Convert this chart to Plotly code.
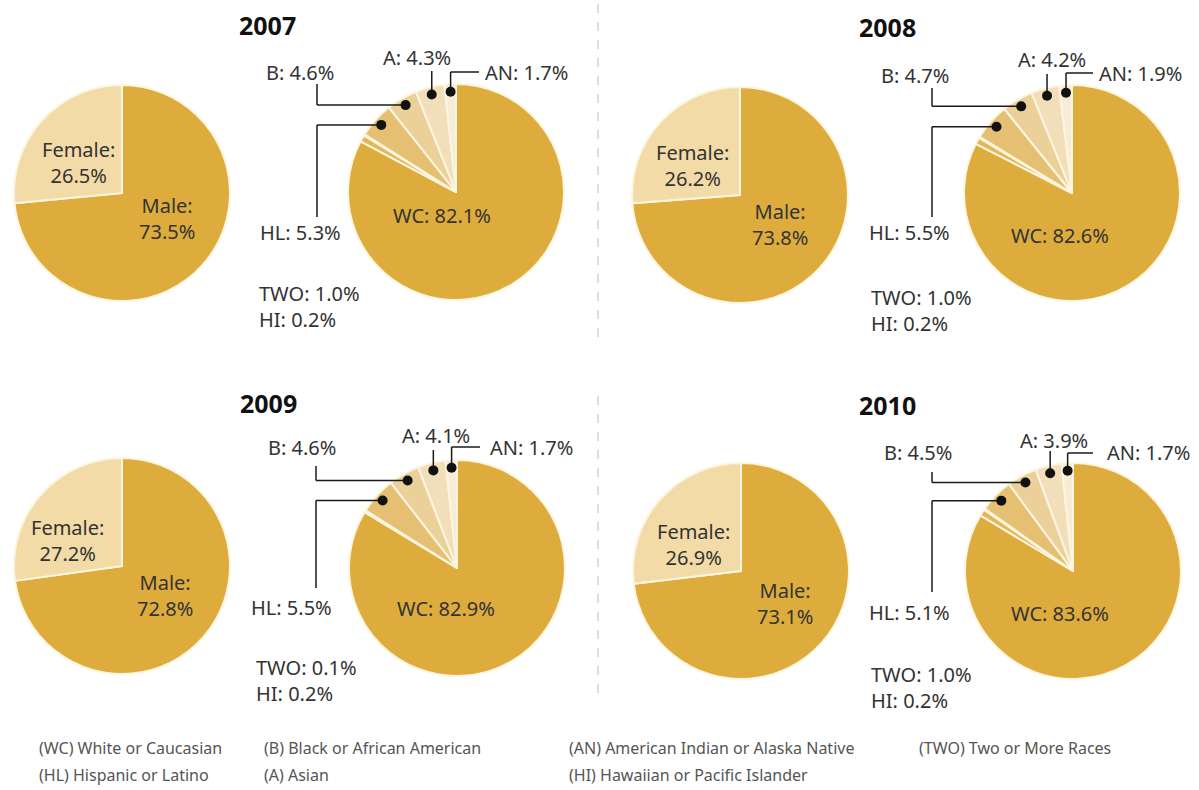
import math
import plotly.graph_objects as go

W, H = 1199, 790

# ---- data -------------------------------------------------------------
YEARS = ["2007", "2008", "2009", "2010"]
MALE = [73.5, 73.8, 72.8, 73.1]
FEMALE = [26.5, 26.2, 27.2, 26.9]

WC = [82.1, 82.6, 82.9, 83.6]
HL = [5.3, 5.5, 5.5, 5.1]
B = [4.6, 4.7, 4.6, 4.5]
A = [4.3, 4.2, 4.1, 3.9]
AN = [1.7, 1.9, 1.7, 1.7]
TWO = [1.0, 1.0, 0.1, 1.0]
HI = [0.2, 0.2, 0.2, 0.2]

ETH_CODES = ["WC", "TWO", "HI", "HL", "B", "A", "AN"]

LEGEND_ROWS = [
    ["(WC) White or Caucasian", "(B) Black or African American",
     "(AN) American Indian or Alaska Native", "(TWO) Two or More Races"],
    ["(HL) Hispanic or Latino", "(A) Asian",
     "(HI) Hawaiian or Pacific Islander", ""],
]

# ---- styling ----------------------------------------------------------
GOLD = "#DEAC3C"
FEMALE_COL = "#F2DBA6"
ETH_COLORS = [GOLD, "#E3B757", "#E3B757", "#E5BF72", "#ECD09A", "#F2DFBA", "#F7ECD6"]
EDGE = "#FCF5DF"
FONT = "Noto Sans"
TXT = "#333333"
LABEL_SIZE = 20
R = 108  # pie radius in px

# per-panel placement (pixel coordinates, y measured from the top)
PANELS = [
    dict(title=(267, 25), g=(122, 193), e=(456, 192),
         fem=(78, 162), male=(167, 219), wc=(442, 215),
         b=(300, 72), a=(417, 58), an=(483, 72), hl=(300, 232), twohi=(257, 306),
         vx=317, b_end=84, hl_end=217, a_end=71, an_end=479),
    dict(title=(887, 27), g=(740, 195), e=(1072, 193),
         fem=(692, 165), male=(780, 225), wc=(1060, 235),
         b=(915, 75), a=(1052, 60), an=(1097, 73), hl=(910, 232), twohi=(869, 310),
         vx=932, b_end=88, hl_end=217, a_end=74, an_end=1093),
    dict(title=(268, 403), g=(122, 566), e=(457, 568),
         fem=(67, 540), male=(165, 595), wc=(446, 608),
         b=(302, 447), a=(436, 435), an=(488, 447), hl=(291, 607), twohi=(254, 680),
         vx=316, b_end=466, hl_end=588, a_end=450, an_end=480),
    dict(title=(887, 405), g=(741, 571), e=(1073, 571),
         fem=(694, 544), male=(785, 603), wc=(1060, 613),
         b=(918, 453), a=(1054, 440), an=(1105, 453), hl=(910, 612), twohi=(869, 687),
         vx=932, b_end=472, hl_end=592, a_end=451, an_end=1093),
]


def px(x):
    return x / W


def py(y):
    return 1 - y / H


def domain(c):
    cx, cy = c
    return dict(x=[px(cx - R), px(cx + R)], y=[py(cy + R), py(cy - R)])


fig = go.Figure()
annotations = []
shapes = []


def label(text, pos, anchor="center", size=LABEL_SIZE, bold=False, color=TXT, align="center"):
    annotations.append(dict(
        x=px(pos[0]), y=py(pos[1]), xref="paper", yref="paper",
        text=f"<b>{text}</b>" if bold else text, showarrow=False,
        xanchor=anchor, yanchor="middle", align=align,
        font=dict(family=FONT, size=size, color=color)))


def seg(points):
    for (x0, y0), (x1, y1) in zip(points[:-1], points[1:]):
        shapes.append(dict(type="line", xref="paper", yref="paper",
                           x0=px(x0), y0=py(y0), x1=px(x1), y1=py(y1),
                           line=dict(color="#1a1a1a", width=1.5), layer="above"))


def dot(x, y, r=5):
    shapes.append(dict(type="circle", xref="paper", yref="paper",
                       x0=px(x - r), y0=py(y + r), x1=px(x + r), y1=py(y - r),
                       fillcolor="#111111", line=dict(width=0), layer="above"))


for i, year in enumerate(YEARS):
    p = PANELS[i]

    # gender pie
    fig.add_trace(go.Pie(
        labels=["Male", "Female"], values=[MALE[i], FEMALE[i]],
        sort=False, direction="clockwise", rotation=0,
        marker=dict(colors=[GOLD, FEMALE_COL], line=dict(color=EDGE, width=2)),
        textinfo="none", hoverinfo="label+percent", showlegend=False,
        domain=domain(p["g"])))

    # ethnicity pie
    vals = [WC[i], TWO[i], HI[i], HL[i], B[i], A[i], AN[i]]
    fig.add_trace(go.Pie(
        labels=ETH_CODES, values=vals,
        sort=False, direction="clockwise", rotation=0,
        marker=dict(colors=ETH_COLORS, line=dict(color=EDGE, width=2)),
        textinfo="none", hoverinfo="label+percent", showlegend=False,
        domain=domain(p["e"])))

    label(year, p["title"], size=25, bold=True, color="#111111")
    label(f"Female:<br>{FEMALE[i]:.1f}%", p["fem"])
    label(f"Male:<br>{MALE[i]:.1f}%", p["male"])
    label(f"WC: {WC[i]:.1f}%", p["wc"])
    label(f"B: {B[i]:.1f}%", p["b"])
    label(f"A: {A[i]:.1f}%", p["a"])
    label(f"AN: {AN[i]:.1f}%", p["an"], anchor="left")
    label(f"HL: {HL[i]:.1f}%", p["hl"])
    label(f"TWO: {TWO[i]:.1f}%<br>HI: {HI[i]:.1f}%", p["twohi"], anchor="left", align="left")

    # leader dots placed at the middle angle of each small slice
    total = sum(vals)
    cx, cy = p["e"]
    acc = 0.0
    mids = {}
    for code, v in (("AN", AN[i]), ("A", A[i]), ("B", B[i]), ("HL", HL[i])):
        theta = (acc + v / 2) / total * 2 * math.pi
        mids[code] = (cx - 0.93 * R * math.sin(theta), cy - 0.93 * R * math.cos(theta))
        acc += v

    hx, hy = mids["HL"]
    seg([(hx, hy), (p["vx"], hy), (p["vx"], p["hl_end"])])
    bx, by = mids["B"]
    seg([(bx, by), (p["vx"], by), (p["vx"], p["b_end"])])
    ax, ay = mids["A"]
    seg([(ax, ay), (ax, p["a_end"])])
    nx, ny = mids["AN"]
    seg([(nx, ny), (nx, p["an"][1]), (p["an_end"], p["an"][1])])
    for code in ("HL", "B", "A", "AN"):
        dot(*mids[code])

# dashed dividers between the columns
for y0, y1 in ((4, 342), (396, 702)):
    shapes.append(dict(type="line", xref="paper", yref="paper",
                       x0=px(598), x1=px(598), y0=py(y0), y1=py(y1),
                       line=dict(color="#BBBBBB", width=1, dash="dash"), layer="below"))

# abbreviation key
col_x = [37, 262, 567, 917]
row_y = [748, 775]
for r, row in enumerate(LEGEND_ROWS):
    for c, text in enumerate(row):
        if text:
            label(text, (col_x[c], row_y[r]), anchor="left", size=16, color="#555555")

fig.update_layout(
    width=W, height=H, margin=dict(l=0, r=0, t=0, b=0),
    paper_bgcolor="white", plot_bgcolor="white",
    annotations=annotations, shapes=shapes, showlegend=False)

fig.write_html("out.html")
